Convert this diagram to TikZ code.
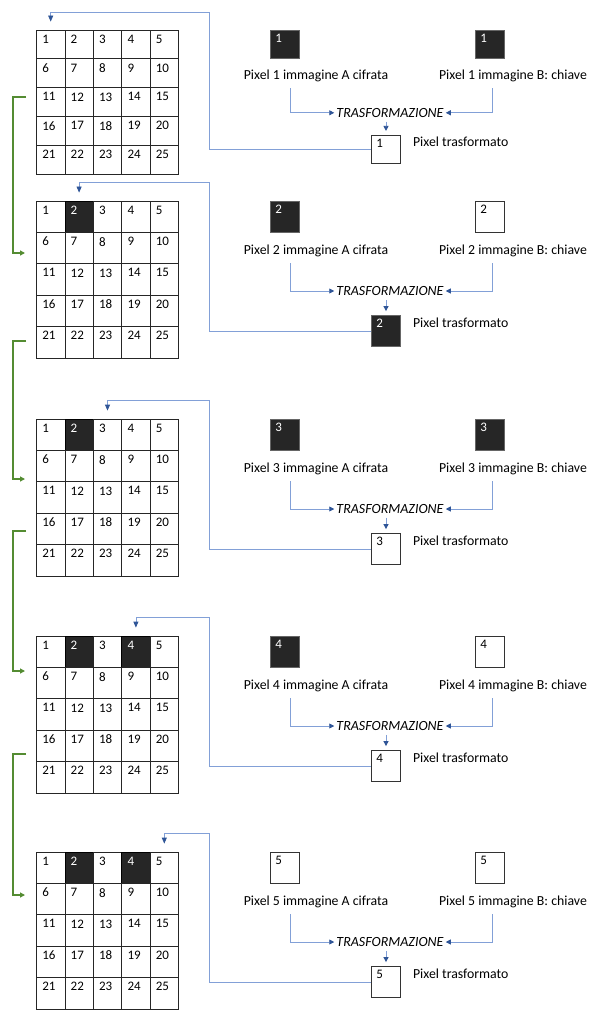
\documentclass[tikz,border=0pt]{standalone}
\usepackage{fontspec}
\setmainfont{Carlito}
\usetikzlibrary{arrows.meta,positioning,calc}
\definecolor{dark}{RGB}{38, 38, 38}
\definecolor{bline}{RGB}{130, 160, 215}
\definecolor{btip}{RGB}{47, 85, 151}
\definecolor{gline}{RGB}{84, 140, 50}
\tikzset{
    cell0/.style={draw=black!85, fill=white, line width=0.8pt, inner sep=0pt, minimum width=28.4pt},
    cell1/.style={cell0, fill=dark, draw=black},
    num0/.style={anchor=north west, inner xsep=6pt, inner ysep=5pt, font=\fontsize{13}{13}\selectfont},
    num1/.style={num0, text=white},
    pix0/.style={draw=black!80, fill=white, line width=0.8pt, inner sep=0pt, minimum width=29pt},
    pix1/.style={pix0, fill=dark, draw=black!60},
    lbl/.style={inner sep=3pt, font=\fontsize{13.8}{16}\selectfont},
    trf/.style={inner sep=2pt, font=\fontsize{14}{16}\selectfont\itshape},
    toT/.style={draw=bline, line width=0.8pt, -{Triangle[color=btip, width=5pt, length=5pt]}},
    ret/.style={draw=bline, line width=0.8pt, -{Triangle[color=btip, width=5pt, length=6pt]}},
    link/.style={draw=gline, line width=1.2pt, -{Triangle[color=gline, width=5pt, length=5pt]}}
}
\begin{document}
\begin{tikzpicture}[x=1pt, y=-1pt]
        \fill[white] (0, 0) rectangle (595, 1024);
        \foreach \p/\T/\s/\da/\db/\ka/\kb/\kr in {1/30/0.92/0/0/1/1/0, 2/201/1/2/0/1/0/1, 3/419/1/2/0/1/1/0, 4/636/1/2/4/1/0/0, 5/852/1/2/4/0/0/0} {
            \pgfmathsetmacro\rh{31.4*\s}
            \pgfmathsetmacro\bh{31*\s}
            \foreach \n in {1,...,25} {
                \pgfmathtruncatemacro\row{(\n-1)/5}
                \pgfmathtruncatemacro\col{mod(\n-1,5)}
                \pgfmathtruncatemacro\dk{or(\n==\da,\n==\db)}
                \node[cell\dk, minimum height=\rh pt] (g\p-\n) at ({36.5+28.4*(\col+0.5)}, {\T+\rh*(\row+0.5)}) {};
                \node[num\dk] at (g\p-\n.north west) {\n};
            }
            \node[pix\ka, minimum height=\bh pt] (a\p) at (285, {\T+15.5*\s}) {};
            \node[num\ka, inner xsep=5pt, inner ysep=4pt] at (a\p.north west) {\p};
            \node[pix\kb, minimum height=\bh pt] (b\p) at (490, {\T+15.5*\s}) {};
            \node[num\kb, inner xsep=5pt, inner ysep=4pt] at (b\p.north west) {\p};
            \node[lbl] (la\p) at (316, {\T+50*\s}) {Pixel \p\ immagine A cifrata};
            \node[lbl] (lb\p) at (513, {\T+50*\s}) {Pixel \p\ immagine B: chiave};
            \node[trf] (t\p) at (390, {\T+90*\s}) {TRASFORMAZIONE};
            \node[pix\kr, minimum height=\bh pt] (r\p) at (386, {\T+130*\s}) {};
            \node[num\kr, inner xsep=5pt, inner ysep=4pt] at (r\p.north west) {\p};
            \node[lbl, right=9pt of r\p, yshift=8pt] (lr\p) {Pixel trasformato};
            \draw[toT] ($(la\p.south -| a\p)+(5, 3)$) |- (t\p.west);
            \draw[toT] ($(lb\p.south -| b\p)+(2, 3)$) |- (t\p.east);
            \draw[toT, shorten <=2pt, shorten >=4pt] (t\p.south -| r\p) -- (r\p.north);
            \coordinate (k\p) at (209, {\T-19*\s});
            \coordinate (e\p) at ($(g\p-\p.north)+(0, -8)$);
            \draw[ret] (r\p.west) -| (k\p) -| (e\p);
        }
        \coordinate (o1) at (26, 97);
        \coordinate (o2) at (26, 341);
        \coordinate (o3) at (26, 531);
        \coordinate (o4) at (26, 754);
        \coordinate (i2) at (25, 253);
        \coordinate (i3) at (25, 479);
        \coordinate (i4) at (25, 671);
        \coordinate (i5) at (25, 895);
        \foreach \u/\v in {1/2, 2/3, 3/4, 4/5}
            \draw[link] (o\u) -- ++(-13, 0) |- (i\v);
    \end{tikzpicture}
\end{document}
